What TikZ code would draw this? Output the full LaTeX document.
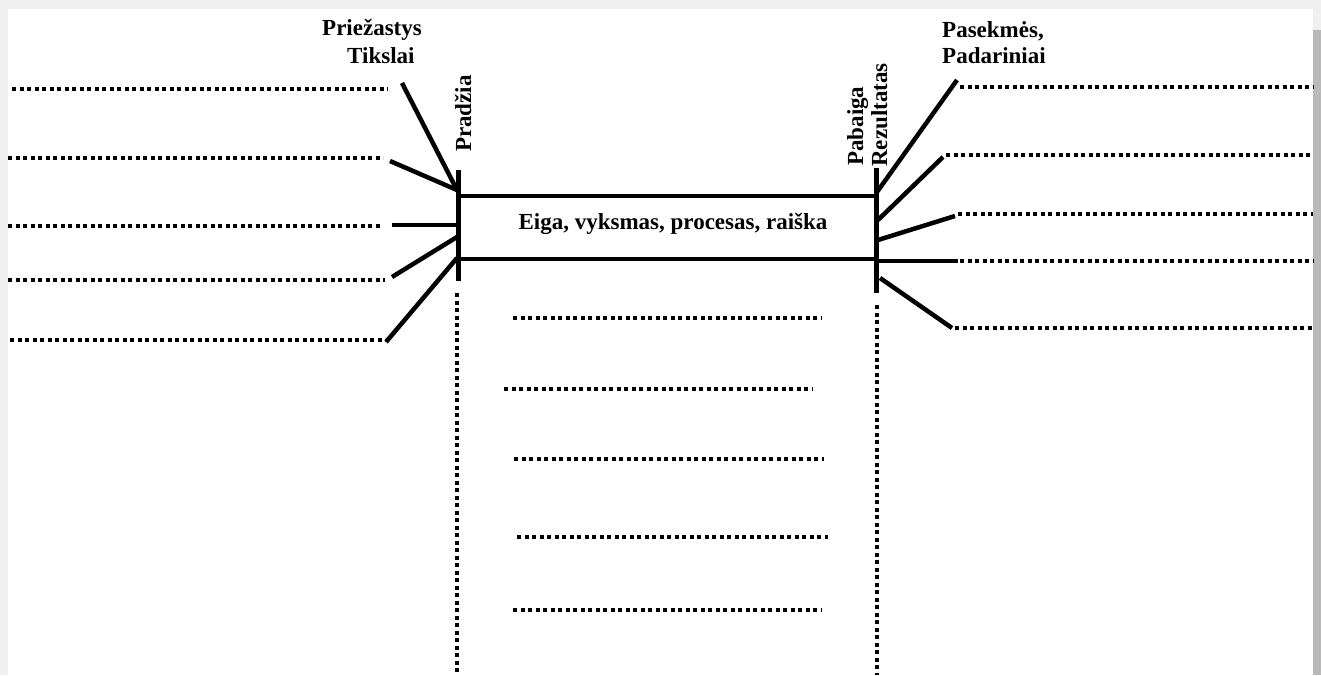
\documentclass[tikz,border=0pt]{standalone}
\usepackage{fontspec}
\setmainfont{Liberation Serif}
\begin{document}
\begin{tikzpicture}[x=1pt,y=-1pt,
  solidln/.style={line width=4.5pt},
  barln/.style={line width=5pt},
  dotln/.style={line width=4pt, dash pattern=on 4pt off 3.5pt},
  lab/.style={font=\fontsize{23}{27}\selectfont\bfseries, inner sep=0pt}]
% page frame
\fill[gray!12] (0,0) rectangle (1321,675);
\fill[gray!55] (1313,30) rectangle (1321,675);
\fill[white] (8,9) rectangle (1313,675);
\useasboundingbox (0,0) rectangle (1321,675);

% process box
\node[draw, line width=4pt, minimum width=417pt, minimum height=63pt, inner sep=0pt] (proc) at (667.5,227.5) {};
\node[lab] (eiga) at (673,224) {Eiga, vyksmas, procesas, raiška};

% bars
\coordinate (lbt) at (458,170); \coordinate (lbb) at (458,281);
\coordinate (rbt) at (876,168); \coordinate (rbb) at (876,293);
\draw[barln] (lbt) -- (lbb);
\draw[barln] (rbt) -- (rbb);

% labels
\node[lab, anchor=base west] (prie) at (322,35) {Priežastys};
\node[lab, anchor=base west] (tiks) at (347,63) {Tikslai};
\node[lab, anchor=base west] (pase) at (942,37) {Pasekmės,};
\node[lab, anchor=base west] (pada) at (942,63) {Padariniai};
\node[lab, anchor=base west, rotate=90] (prad) at (471,152) {Pradžia};
\node[lab, anchor=base west, rotate=90] (paba) at (863,166) {Pabaiga};
\node[lab, anchor=base west, rotate=90] (rezu) at (887,167) {Rezultatas};

% left connectors
\coordinate (l1a) at (402,83);  \coordinate (l1b) at (457,190);
\coordinate (l2a) at (390,161); \coordinate (l2b) at (457,190);
\coordinate (l3a) at (392,225); \coordinate (l3b) at (457,225);
\coordinate (l4a) at (392,277); \coordinate (l4b) at (457,237);
\coordinate (l5a) at (386,342); \coordinate (l5b) at (457,258);
\draw[solidln] (l1a) -- (l1b);
\draw[solidln] (l2a) -- (l2b);
\draw[solidln] (l3a) -- (l3b);
\draw[solidln] (l4a) -- (l4b);
\draw[solidln] (l5a) -- (l5b);

% right connectors
\coordinate (r1a) at (877,192); \coordinate (r1b) at (957,80);
\coordinate (r2a) at (878,220); \coordinate (r2b) at (943,157);
\coordinate (r3a) at (878,240); \coordinate (r3b) at (955,216);
\coordinate (r4a) at (876,261); \coordinate (r4b) at (958,261);
\coordinate (r5a) at (880,278); \coordinate (r5b) at (952,328);
\draw[solidln] (r1a) -- (r1b);
\draw[solidln] (r2a) -- (r2b);
\draw[solidln] (r3a) -- (r3b);
\draw[solidln] (r4a) -- (r4b);
\draw[solidln] (r5a) -- (r5b);

% left dotted lines
\draw[dotln] (12,89) -- (388,89);
\draw[dotln] (8,158) -- (383,158);
\draw[dotln] (8,226) -- (380,226);
\draw[dotln] (8,280) -- (385,280);
\draw[dotln] (10,340) -- (385,340);

% right dotted lines
\draw[dotln] (960,87) -- (1313,87);
\draw[dotln] (946,155) -- (1313,155);
\draw[dotln] (958,214) -- (1313,214);
\draw[dotln] (960,261) -- (1313,261);
\draw[dotln] (955,328) -- (1313,328);

% centre dotted lines
\draw[dotln] (513,318) -- (821,318);
\draw[dotln] (504,389) -- (813,389);
\draw[dotln] (514,459) -- (824,459);
\draw[dotln] (517,537) -- (828,537);
\draw[dotln] (513,610) -- (822,610);

% vertical dotted lines
\draw[dotln] (457,293) -- (457,675);
\draw[dotln] (877,305) -- (877,675);
\end{tikzpicture}
\end{document}
